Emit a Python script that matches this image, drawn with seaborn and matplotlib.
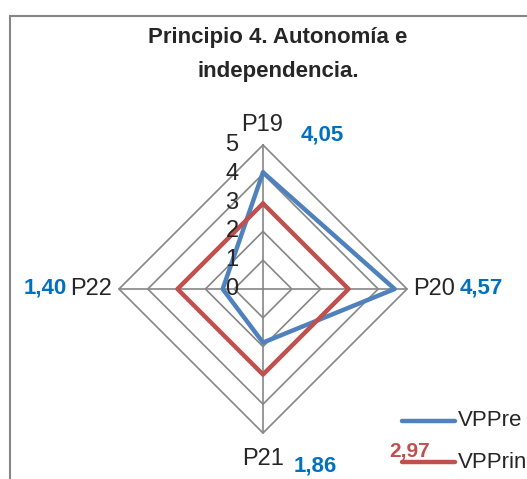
import numpy as np
import pandas as pd
import seaborn as sns
import matplotlib.pyplot as plt
from matplotlib.patches import Rectangle

# data
axes_labels = ['P19', 'P20', 'P21', 'P22']
vppre = [4.05, 4.57, 1.86, 1.40]
vpprin = [2.97, 2.97, 2.97, 2.97]
series_names = ['VPPre', 'VPPrin']
rings = [1, 2, 3, 4, 5]

W, H = 527, 479
CX, CY, PX_PER_UNIT = 263, 289, 28.8
BLUE, RED, GRID = '#4F81BD', '#C0504D', '#868686'
LBL_BLUE = '#0070C0'

sns.set_style('white')
plt.rcParams['font.family'] = ['Liberation Sans', 'DejaVu Sans']

fig = plt.figure(figsize=(W / 100, H / 100), dpi=100)
ax = fig.add_axes([0, 0, 1, 1])
ax.set_xlim(-CX / PX_PER_UNIT, (W - CX) / PX_PER_UNIT)
ax.set_ylim(-(H - CY) / PX_PER_UNIT, CY / PX_PER_UNIT)
ax.axis('off')


def px(x, y):
    # pixel position -> data position
    return (x - CX) / PX_PER_UNIT, (CY - y) / PX_PER_UNIT


angles = np.pi / 2 - np.arange(len(axes_labels)) * 2 * np.pi / len(axes_labels)


def to_xy(vals):
    vals = np.append(vals, vals[0])
    ang = np.append(angles, angles[0])
    return vals * np.cos(ang), vals * np.sin(ang)


# frame of the chart area (runs off the right and bottom edges)
x0, y0 = px(10, 16)
x1, y1 = px(540, 495)
ax.add_patch(Rectangle((x0, y1), x1 - x0, y0 - y1, fill=False, ec=GRID, lw=1.5, clip_on=False))

# grid rings and spokes
for r in rings:
    gx, gy = to_xy(np.full(len(axes_labels), r))
    ax.plot(gx, gy, color=GRID, lw=1.2, zorder=1)
for a in angles:
    ax.plot([0, 5 * np.cos(a)], [0, 5 * np.sin(a)], color=GRID, lw=1.2, zorder=1)

rows = []
for name, vals in zip(series_names, [vppre, vpprin]):
    sx, sy = to_xy(np.array(vals))
    for i, (a, b) in enumerate(zip(sx, sy)):
        rows.append({'serie': name, 'order': i, 'x': a, 'y': b})
df = pd.DataFrame(rows)
sns.lineplot(data=df, x='x', y='y', hue='serie', palette=[BLUE, RED], sort=False,
             estimator=None, lw=3.2, legend=False, ax=ax, zorder=3)

# ring value labels along the top spoke
for r in [0] + rings:
    ax.text(-0.85, r, str(r), ha='right', va='center', fontsize=17, zorder=4)

# category labels
ax.text(*px(262, 125), 'P19', ha='center', va='center', fontsize=17)
ax.text(*px(413, 289), 'P20', ha='left', va='center', fontsize=17)
ax.text(*px(263, 459), 'P21', ha='center', va='center', fontsize=17)
ax.text(*px(112, 289), 'P22', ha='right', va='center', fontsize=17)

# data labels
fmt = lambda v: f'{v:.2f}'.replace('.', ',')
ax.text(*px(322, 135), fmt(vppre[0]), color=LBL_BLUE, fontsize=16, fontweight='bold', ha='center', va='center')
ax.text(*px(481, 288), fmt(vppre[1]), color=LBL_BLUE, fontsize=16, fontweight='bold', ha='center', va='center')
ax.text(*px(315, 466), fmt(vppre[2]), color=LBL_BLUE, fontsize=16, fontweight='bold', ha='center', va='center')
ax.text(*px(45, 288), fmt(vppre[3]), color=LBL_BLUE, fontsize=16, fontweight='bold', ha='center', va='center')
ax.text(*px(410, 452), fmt(vpprin[0]), color=RED, fontsize=15, fontweight='bold', ha='center', va='center')

# legend
for name, col, ly in zip(series_names, [BLUE, RED], [421, 462]):
    lx0, lyd = px(402, ly)
    lx1, _ = px(455, ly)
    ax.plot([lx0, lx1], [lyd, lyd], color=col, lw=3.2, solid_capstyle='round', clip_on=False)
    ax.text(*px(458, ly), name, ha='left', va='center', fontsize=16)

# title
ax.text(*px(278, 38), 'Principio 4. Autonomía e', ha='center', va='center',
        fontsize=16, fontweight='bold')
ax.text(*px(278, 72), 'independencia.', ha='center', va='center',
        fontsize=16, fontweight='bold')

fig.savefig('out.png', dpi=100)
